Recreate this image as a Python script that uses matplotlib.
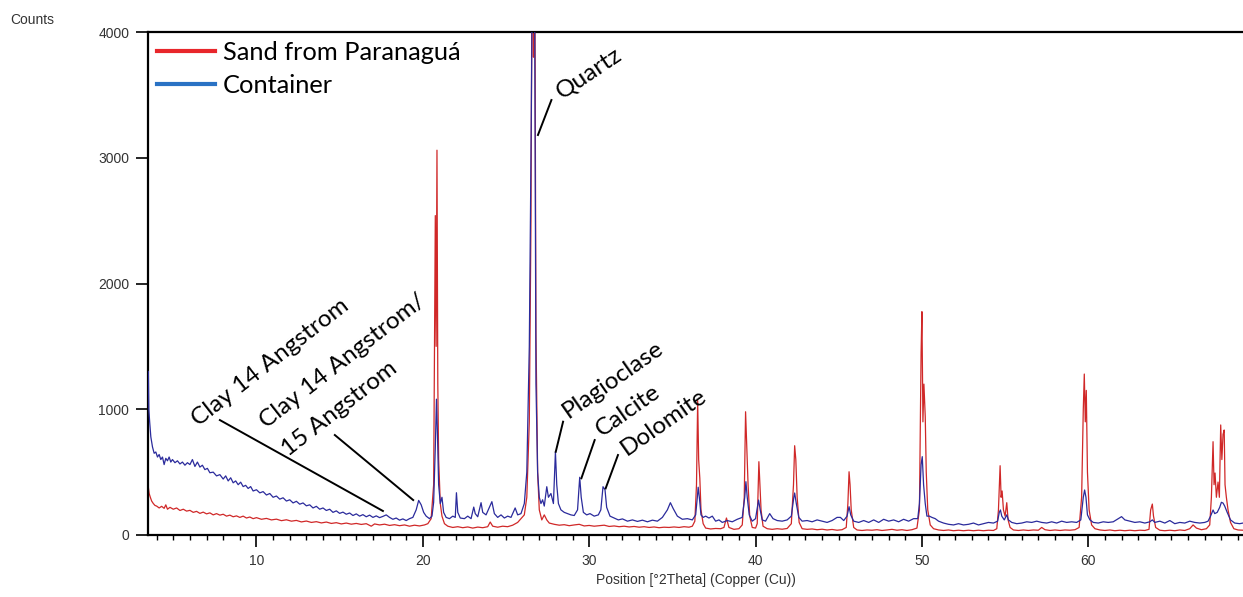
import numpy as np
import matplotlib
matplotlib.use('Agg')
import matplotlib.pyplot as plt
from matplotlib.ticker import MultipleLocator

# (2theta, counts)
sand = [
    (3.50, 380), (3.55, 330), (3.62, 300), (3.70, 270), (3.80, 250), (3.90, 235), (4.00, 230), (4.15, 215),
    (4.30, 228), (4.45, 212), (4.55, 240), (4.65, 205), (4.80, 220), (5.00, 205), (5.20, 215), (5.40, 195),
    (5.60, 205), (5.80, 190), (6.00, 196), (6.20, 180), (6.40, 188), (6.60, 172), (6.80, 182), (7.00, 168),
    (7.20, 176), (7.40, 160), (7.60, 170), (7.80, 158), (8.00, 165), (8.20, 150), (8.40, 158), (8.60, 145),
    (8.80, 152), (9.00, 140), (9.20, 150), (9.40, 135), (9.60, 143), (9.80, 130), (10.00, 138), (10.30, 125),
    (10.60, 132), (10.90, 120), (11.20, 126), (11.50, 114), (11.80, 121), (12.10, 110), (12.40, 116),
    (12.70, 104), (13.00, 111), (13.30, 100), (13.60, 106), (13.90, 96), (14.20, 103), (14.50, 92),
    (14.80, 98), (15.10, 88), (15.40, 95), (15.70, 86), (16.00, 92), (16.30, 84), (16.60, 90), (16.90, 70),
    (17.10, 88), (17.40, 80), (17.70, 86), (18.00, 76), (18.30, 82), (18.60, 74), (18.90, 80), (19.20, 70),
    (19.50, 78), (19.80, 72), (20.10, 80), (20.30, 90), (20.50, 130), (20.65, 400), (20.75, 2540),
    (20.80, 1500), (20.85, 3060), (20.90, 1200), (20.95, 600), (21.05, 250), (21.15, 150), (21.30, 90),
    (21.50, 70), (21.80, 60), (22.10, 66), (22.40, 58), (22.70, 64), (23.00, 55), (23.30, 63), (23.60, 58),
    (23.90, 66), (24.05, 103), (24.20, 70), (24.50, 62), (24.80, 70), (25.10, 66), (25.40, 78), (25.70, 100),
    (25.90, 130), (26.10, 160), (26.25, 300), (26.40, 900), (26.50, 2500), (26.58, 5200), (26.65, 3800),
    (26.72, 5000), (26.80, 1600), (26.90, 500), (27.00, 200), (27.15, 120), (27.30, 160), (27.45, 120),
    (27.60, 95), (27.90, 85), (28.20, 78), (28.50, 82), (28.80, 74), (29.10, 80), (29.40, 85), (29.70, 72),
    (30.00, 76), (30.30, 70), (30.60, 74), (30.90, 78), (31.20, 68), (31.50, 72), (31.80, 66), (32.10, 70),
    (32.40, 64), (32.70, 68), (33.00, 62), (33.30, 66), (33.60, 60), (33.90, 64), (34.20, 58), (34.50, 62),
    (34.80, 60), (35.10, 64), (35.40, 60), (35.70, 66), (36.00, 62), (36.20, 70), (36.35, 110), (36.45, 400),
    (36.52, 1070), (36.58, 600), (36.65, 450), (36.72, 200), (36.85, 90), (37.00, 55), (37.30, 48),
    (37.60, 52), (37.90, 50), (38.10, 60), (38.25, 135), (38.40, 60), (38.70, 45), (39.00, 50), (39.20, 80),
    (39.32, 300), (39.40, 980), (39.47, 700), (39.55, 400), (39.65, 150), (39.80, 60), (40.00, 55),
    (40.10, 90), (40.20, 583), (40.26, 400), (40.33, 200), (40.45, 70), (40.70, 50), (41.00, 45), (41.30, 50),
    (41.60, 46), (41.90, 52), (42.15, 90), (42.28, 400), (42.35, 710), (42.42, 600), (42.50, 300),
    (42.62, 100), (42.80, 50), (43.10, 45), (43.40, 48), (43.70, 42), (44.00, 46), (44.30, 40), (44.60, 44),
    (44.90, 38), (45.20, 42), (45.45, 60), (45.55, 250), (45.62, 503), (45.68, 400), (45.75, 200),
    (45.90, 60), (46.10, 40), (46.40, 36), (46.70, 40), (47.00, 38), (47.30, 42), (47.60, 36), (47.90, 40),
    (48.20, 45), (48.50, 38), (48.80, 42), (49.10, 36), (49.40, 42), (49.70, 55), (49.85, 200), (49.95, 1450),
    (50.00, 1776), (50.06, 900), (50.12, 1200), (50.20, 941), (50.26, 500), (50.35, 200), (50.50, 80),
    (50.70, 50), (51.00, 40), (51.30, 36), (51.60, 40), (51.90, 34), (52.20, 38), (52.50, 34), (52.80, 38),
    (53.10, 34), (53.40, 38), (53.70, 34), (54.00, 38), (54.30, 36), (54.50, 50), (54.60, 200), (54.70, 551),
    (54.76, 300), (54.82, 350), (54.90, 200), (55.00, 150), (55.10, 257), (55.18, 120), (55.30, 60),
    (55.50, 40), (55.80, 36), (56.10, 40), (56.40, 36), (56.70, 40), (57.00, 38), (57.20, 60), (57.40, 42),
    (57.70, 36), (58.00, 40), (58.30, 36), (58.60, 40), (58.90, 38), (59.20, 42), (59.45, 60), (59.60, 300),
    (59.70, 1000), (59.76, 1280), (59.82, 900), (59.88, 1150), (59.95, 500), (60.05, 200), (60.20, 80),
    (60.40, 50), (60.70, 40), (61.00, 36), (61.30, 40), (61.60, 34), (61.90, 38), (62.20, 34), (62.50, 38),
    (62.80, 34), (63.10, 38), (63.40, 36), (63.65, 45), (63.75, 200), (63.85, 246), (63.92, 150),
    (64.05, 60), (64.30, 38), (64.60, 34), (64.90, 38), (65.20, 34), (65.50, 40), (65.80, 36), (66.10, 50),
    (66.30, 80), (66.50, 55), (66.80, 42), (67.10, 50), (67.30, 80), (67.40, 300), (67.50, 742), (67.56, 400),
    (67.62, 493), (67.70, 300), (67.80, 421), (67.88, 300), (67.96, 875), (68.03, 600), (68.10, 800),
    (68.17, 835), (68.22, 400), (68.30, 300), (68.40, 200), (68.55, 100), (68.75, 50), (69.00, 40),
    (69.30, 38),
]

container = [
    (3.50, 1300), (3.53, 1000), (3.58, 900), (3.65, 780), (3.75, 700), (3.85, 650), (3.95, 660), (4.05, 620),
    (4.15, 640), (4.25, 600), (4.35, 620), (4.45, 560), (4.55, 610), (4.65, 590), (4.75, 620), (4.85, 580),
    (4.95, 600), (5.10, 575), (5.25, 590), (5.40, 565), (5.55, 580), (5.70, 555), (5.85, 575), (6.00, 560),
    (6.15, 600), (6.30, 545), (6.45, 580), (6.60, 540), (6.75, 555), (6.90, 520), (7.05, 530), (7.20, 495),
    (7.40, 500), (7.60, 470), (7.80, 480), (8.00, 445), (8.15, 470), (8.30, 430), (8.45, 455), (8.60, 415),
    (8.75, 430), (8.90, 400), (9.05, 420), (9.20, 385), (9.35, 395), (9.50, 370), (9.65, 385), (9.80, 350),
    (10.00, 360), (10.20, 335), (10.40, 345), (10.60, 318), (10.80, 330), (11.00, 300), (11.20, 310),
    (11.40, 285), (11.60, 296), (11.80, 270), (12.00, 280), (12.20, 255), (12.40, 268), (12.60, 245),
    (12.80, 255), (13.00, 232), (13.20, 240), (13.40, 215), (13.60, 228), (13.80, 205), (14.00, 215),
    (14.20, 195), (14.40, 205), (14.60, 180), (14.80, 192), (15.00, 172), (15.20, 182), (15.40, 165),
    (15.60, 175), (15.80, 155), (16.00, 168), (16.20, 150), (16.40, 162), (16.60, 145), (16.80, 158),
    (17.00, 140), (17.20, 152), (17.40, 138), (17.60, 148), (17.80, 160), (18.00, 140), (18.20, 125),
    (18.40, 135), (18.60, 118), (18.80, 128), (19.00, 115), (19.20, 130), (19.40, 140), (19.60, 200),
    (19.75, 275), (19.90, 240), (20.05, 180), (20.20, 150), (20.40, 130), (20.55, 150), (20.65, 260),
    (20.75, 700), (20.82, 1080), (20.88, 800), (20.95, 400), (21.05, 250), (21.15, 300), (21.25, 180),
    (21.40, 140), (21.60, 130), (21.80, 150), (21.95, 140), (22.02, 336), (22.10, 180), (22.25, 135),
    (22.50, 130), (22.70, 150), (22.90, 130), (23.06, 222), (23.15, 170), (23.30, 145), (23.50, 257),
    (23.60, 180), (23.80, 160), (24.00, 220), (24.15, 265), (24.30, 170), (24.50, 140), (24.70, 160),
    (24.90, 135), (25.10, 150), (25.30, 140), (25.55, 215), (25.70, 160), (25.90, 170), (26.10, 250),
    (26.25, 500), (26.40, 1500), (26.50, 3000), (26.58, 4400), (26.65, 4200), (26.72, 4300), (26.80, 1200),
    (26.90, 500), (27.00, 300), (27.10, 250), (27.20, 280), (27.30, 230), (27.45, 384), (27.55, 300),
    (27.70, 330), (27.85, 250), (27.97, 662), (28.05, 400), (28.15, 250), (28.30, 200), (28.50, 180),
    (28.70, 170), (28.90, 160), (29.10, 155), (29.30, 200), (29.43, 459), (29.52, 300), (29.65, 180),
    (29.85, 160), (30.05, 170), (30.30, 150), (30.55, 160), (30.70, 200), (30.83, 384), (30.95, 360),
    (31.05, 220), (31.25, 150), (31.50, 135), (31.75, 120), (32.00, 128), (32.30, 110), (32.60, 120),
    (32.90, 108), (33.20, 118), (33.50, 105), (33.80, 118), (34.10, 110), (34.40, 140), (34.70, 200),
    (34.88, 257), (35.05, 210), (35.30, 150), (35.60, 125), (35.90, 130), (36.20, 120), (36.40, 160),
    (36.50, 300), (36.55, 380), (36.62, 300), (36.72, 160), (36.85, 140), (37.00, 150), (37.20, 135),
    (37.40, 150), (37.60, 110), (37.80, 120), (38.00, 100), (38.30, 115), (38.60, 105), (38.90, 125),
    (39.20, 140), (39.35, 300), (39.42, 424), (39.50, 300), (39.62, 160), (39.80, 110), (40.00, 130),
    (40.18, 278), (40.28, 200), (40.40, 120), (40.60, 110), (40.85, 170), (41.05, 130), (41.30, 115),
    (41.60, 110), (41.90, 120), (42.15, 150), (42.30, 300), (42.35, 334), (42.45, 250), (42.60, 140),
    (42.80, 110), (43.10, 115), (43.40, 105), (43.70, 120), (44.00, 110), (44.30, 100), (44.60, 115),
    (44.90, 140), (45.10, 140), (45.30, 115), (45.50, 150), (45.62, 225), (45.72, 160), (45.90, 110),
    (46.20, 100), (46.50, 115), (46.80, 100), (47.10, 120), (47.40, 100), (47.70, 125), (48.00, 110),
    (48.30, 120), (48.60, 105), (48.90, 125), (49.20, 110), (49.50, 130), (49.75, 130), (49.85, 250),
    (49.95, 560), (50.02, 623), (50.10, 400), (50.20, 250), (50.30, 150), (50.45, 150), (50.60, 140),
    (50.80, 130), (51.00, 110), (51.30, 95), (51.60, 85), (51.90, 80), (52.20, 90), (52.50, 80), (52.80, 85),
    (53.10, 95), (53.40, 80), (53.70, 90), (54.00, 100), (54.30, 95), (54.55, 110), (54.65, 180),
    (54.72, 199), (54.80, 150), (54.95, 120), (55.10, 160), (55.20, 120), (55.40, 100), (55.70, 90),
    (56.00, 95), (56.30, 105), (56.60, 100), (56.90, 110), (57.20, 100), (57.50, 95), (57.80, 105),
    (58.10, 95), (58.40, 110), (58.70, 100), (59.00, 105), (59.30, 100), (59.55, 120), (59.70, 300),
    (59.78, 358), (59.86, 300), (59.95, 160), (60.10, 120), (60.30, 100), (60.60, 95), (60.90, 105),
    (61.20, 100), (61.50, 105), (61.80, 130), (62.00, 146), (62.20, 120), (62.50, 110), (62.80, 100),
    (63.10, 105), (63.40, 95), (63.70, 105), (63.85, 120), (64.00, 100), (64.30, 110), (64.60, 95),
    (64.90, 115), (65.20, 90), (65.50, 100), (65.80, 95), (66.10, 110), (66.40, 100), (66.70, 95),
    (67.00, 100), (67.20, 110), (67.35, 150), (67.50, 199), (67.60, 170), (67.75, 180), (67.90, 220),
    (68.00, 260), (68.10, 254), (68.20, 230), (68.35, 180), (68.55, 120), (68.80, 95), (69.10, 90),
    (69.30, 95),
]

series_names = ['Sand from Paranaguá', 'Container']

peak_labels = ['Clay 14 Angstrom', 'Clay 14 Angstrom/', '15 Angstrom', 'Quartz',
               'Plagioclase', 'Calcite', 'Dolomite']
label_pos = [(6.5, 860), (10.6, 845), (11.9, 620), (28.35, 3470), (28.75, 925), (30.75, 780), (32.25, 630)]
label_rot = [38, 38, 38, 34, 35, 35, 35]
# leader lines: (x0, y0, x1, y1)
leaders = [(7.8, 914, 17.6, 191), (14.71, 795, 19.42, 278), (27.73, 3459, 26.92, 3181),
           (28.43, 901, 27.99, 662), (30.33, 755, 29.53, 451), (31.73, 636, 30.99, 371)]

W, H = 1243, 597
fig = plt.figure(figsize=(W / 100, H / 100), dpi=100)
ax = fig.add_axes([148 / W, 1 - 535 / H, (W - 148) / W, (535 - 32) / H])

sx, sy = np.array(sand).T
cx, cy = np.array(container).T
ax.plot(sx, sy, color='#d02828', lw=0.9, zorder=2)
ax.plot(cx, cy, color='#2b2b9c', lw=0.9, zorder=3)

ax.set_xlim(3.48, 69.3)
ax.set_ylim(0, 4000)
ax.xaxis.set_major_locator(MultipleLocator(10))
ax.xaxis.set_minor_locator(MultipleLocator(1))
ax.yaxis.set_major_locator(MultipleLocator(1000))
ax.tick_params(axis='both', which='major', length=8.5, width=1.2, labelsize=10,
               labelcolor='#333333', pad=5, direction='out')
ax.tick_params(axis='x', which='minor', length=3.8, width=1.0, direction='out')
for lab in ax.get_xticklabels() + ax.get_yticklabels():
    lab.set_family('Liberation Sans')
ax.spines['right'].set_visible(False)
for s in ('left', 'bottom', 'top'):
    ax.spines[s].set_linewidth(1.6)

fig.text(10 / W, 1 - 20 / H, 'Counts', fontsize=10, family='Liberation Sans',
         color='#333333', va='center', ha='left')
ax.set_xlabel('Position [°2Theta] (Copper (Cu))', fontsize=10, family='Liberation Sans',
              color='#333333', labelpad=4)

# legend
h1, = ax.plot([], [], color='#e8262b', lw=3)
h2, = ax.plot([], [], color='#2a72c4', lw=3)
leg = ax.legend([h1, h2], series_names, loc='upper left', bbox_to_anchor=(0.0, 1.0),
                prop={'family': 'Lato', 'size': 18.3}, frameon=True, handlelength=2.3,
                handletextpad=0.3, labelspacing=0.38, borderpad=0.15, borderaxespad=0.2)
leg.get_frame().set_edgecolor('none')
leg.get_frame().set_facecolor('white')
leg.get_frame().set_alpha(1)

for txt, (lx, ly), rot in zip(peak_labels, label_pos, label_rot):
    ax.text(lx, ly, txt, rotation=rot, rotation_mode='anchor', ha='left', va='baseline',
            fontsize=17.6, family='Lato', color='black', zorder=5)
for x0, y0, x1, y1 in leaders:
    ax.plot([x0, x1], [y0, y1], color='black', lw=1.4, zorder=5)

fig.savefig('out.png', dpi=100)
